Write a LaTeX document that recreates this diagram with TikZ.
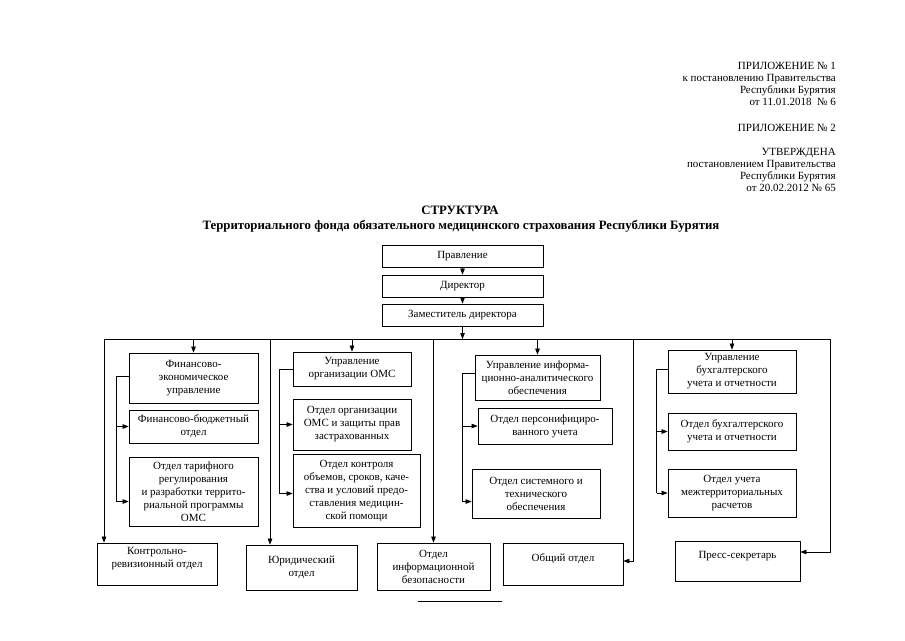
\documentclass[tikz,border=0pt]{standalone}
\usepackage{fontspec}
\setmainfont{Liberation Serif}
\usetikzlibrary{arrows.meta}

\tikzset{
  box/.style={draw, line width=0.75pt, align=center, inner sep=0pt, font=\fontsize{11}{13}\selectfont},
  arr/.style={-{Triangle[length=6pt,width=4.5pt]}, line width=0.65pt},
  wire/.style={line width=0.65pt}
}

\begin{document}
\begin{tikzpicture}[x=1pt, y=-1pt]
\useasboundingbox (0,0) rectangle (905,640);

\node[anchor=north east, align=right, inner sep=0pt, font=\fontsize{11}{12}\selectfont] (hdr) at (836,62.5)
  {ПРИЛОЖЕНИЕ № 1\\к постановлению Правительства\\Республики Бурятия\\от 11.01.2018 \ № 6\\[14pt]
   ПРИЛОЖЕНИЕ № 2\\[12pt]
   УТВЕРЖДЕНА\\постановлением Правительства\\Республики Бурятия\\от 20.02.2012 № 65};

\node[font=\fontsize{12.8}{14}\selectfont\bfseries] (ttl) at (460,210) {СТРУКТУРА};
\node[font=\fontsize{12.8}{14}\selectfont\bfseries] (sub) at (461,226) {Территориального фонда обязательного медицинского страхования Республики Бурятия};

\node[box, minimum width=161pt, minimum height=22pt] (pr) at (462.5,256) {Правление};
\node[box, minimum width=161pt, minimum height=22pt] (dir) at (462.5,286) {Директор};
\node[box, minimum width=161pt, minimum height=22pt] (zam) at (462.5,315) {Заместитель директора};

\node[box, minimum width=129pt, minimum height=50pt] (fe) at (193.5,378) {Финансово-\\экономическое\\управление};
\node[box, minimum width=129pt, minimum height=33pt] (fb) at (193.5,426.5) {Финансово-бюджетный\\отдел};
\node[box, minimum width=129pt, minimum height=69pt] (tr) at (193.5,491.5) {Отдел тарифного\\регулирования\\и разработки террито-\\риальной программы\\ОМС};

\node[box, minimum width=118pt, minimum height=34pt] (uo) at (352,369) {Управление\\организации ОМС};
\node[box, minimum width=118pt, minimum height=51pt] (oz) at (352,424.5) {Отдел организации\\ОМС и защиты прав\\застрахованных};
\node[box, minimum width=127pt, minimum height=73pt] (ok) at (356.5,490.5) {Отдел контроля\\объемов, сроков, каче-\\ства и условий предо-\\ставления медицин-\\ской помощи};

\node[box, minimum width=125pt, minimum height=45pt] (ui) at (537.5,377.5) {Управление информа-\\ционно-аналитического\\обеспечения};
\node[box, minimum width=134pt, minimum height=36pt] (op) at (545,426) {Отдел персонифициро-\\ванного учета};
\node[box, minimum width=128pt, minimum height=49pt] (os) at (536,493.5) {Отдел системного и\\технического\\обеспечения};

\node[box, minimum width=128pt, minimum height=43pt] (ub) at (732,371.5) {Управление\\бухгалтерского\\учета и отчетности};
\node[box, minimum width=128pt, minimum height=37pt] (ob) at (732,431.5) {Отдел бухгалтерского\\учета и отчетности};
\node[box, minimum width=128pt, minimum height=48pt] (om) at (732,493) {Отдел учета\\межтерриториальных\\расчетов};

\node[box, minimum width=120pt, minimum height=42pt] (kr) at (157,564) {Контрольно-\\ревизионный отдел\\ };
\node[box, minimum width=111pt, minimum height=45pt] (yu) at (301.5,567.5) {Юридический\\отдел};
\node[box, minimum width=113pt, minimum height=47pt] (ib) at (433.5,566.5) {Отдел\\информационной\\безопасности};
\node[box, minimum width=120pt, minimum height=42pt] (oo) at (563,564) {Общий отдел\\ };
\node[box, minimum width=125pt, minimum height=40pt] (ps) at (737.5,561) {Пресс-секретарь\\ };

\coordinate (bl) at (104,339);
\coordinate (br) at (830,339);
\coordinate (b2) at (270,339);
\coordinate (b5) at (633,339);
\coordinate (tin) at ([yshift=-10pt]tr.west);
\coordinate (kin) at ([yshift=-3pt]ok.west);
\coordinate (sin) at ([yshift=-8pt]os.west);
\coordinate (oin) at ([yshift=3pt]oo.east);
\coordinate (pin) at ([yshift=9pt]ps.east);

\draw[arr] (pr) -- (dir);
\draw[arr] (dir) -- (zam);
\draw[arr] (zam) -- (zam.south |- bl);
\draw[wire] (bl) -- (br);

\draw[arr] (bl) -- (bl |- kr.north);
\draw[arr] (fe.north |- bl) -- (fe);
\draw[arr] (b2) -- (b2 |- yu.north);
\draw[arr] (uo.north |- bl) -- (uo);
\draw[arr] (ib.north |- bl) -- (ib);
\draw[arr] (ui.north |- bl) -- (ui);
\draw[arr] (b5) |- (oin);
\draw[arr] (ub.north |- bl) -- (ub);
\draw[arr] (br) |- (pin);

\draw[wire] ([yshift=2pt]fe.west) -- ++(-12,0) coordinate (k1) -- (k1 |- tin);
\draw[arr] (k1 |- fb.west) -- (fb.west);
\draw[arr] (k1 |- tin) -- (tin);

\draw[wire] (uo.west) -- ++(-13,0) coordinate (k2) -- (k2 |- kin);
\draw[arr] (k2 |- oz.west) -- (oz.west);
\draw[arr] (k2 |- kin) -- (kin);

\draw[wire] ([yshift=4pt]ui.west) -- ++(-12,0) coordinate (k3) -- (k3 |- sin);
\draw[arr] (k3 |- op.west) -- (op.west);
\draw[arr] (k3 |- sin) -- (sin);

\draw[wire] ([yshift=2pt]ub.west) -- ++(-11,0) coordinate (k4) -- (k4 |- om.west);
\draw[arr] (k4 |- ob.west) -- (ob.west);
\draw[arr] (k4 |- om.west) -- (om.west);

\draw[wire] (418,601) -- (502,601);
\end{tikzpicture}
\end{document}
